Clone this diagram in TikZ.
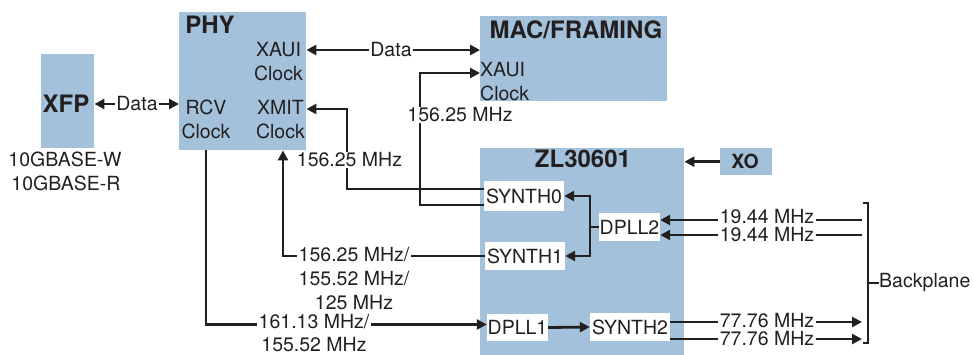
\documentclass[tikz,border=0pt]{standalone}
\usepackage{fontspec}
\setmainfont{TeX Gyre Heros}
\usetikzlibrary{arrows.meta}
\definecolor{boxblue}{HTML}{A3C1DB}
\definecolor{ink}{HTML}{231F20}
\newcommand\rgfont{\fontsize{19.5}{24}\selectfont}
\newcommand\ttlfont{\fontsize{24}{27}\selectfont\bfseries}
\tikzset{
  blk/.style={fill=boxblue, draw=none, inner sep=0pt, anchor=north west},
  wbox/.style={fill=white, draw=none, inner sep=0pt, font=\rgfont, text=ink},
  txt/.style={inner sep=0pt, font=\rgfont, text=ink},
  ttl/.style={inner sep=0pt, font=\ttlfont, text=ink},
  lbl/.style={fill=white, inner xsep=1.5pt, inner ysep=0.5pt, font=\rgfont, text=ink},
  conn/.style={line width=2.8pt, draw=ink},
  arr/.style={conn, -{Triangle[length=10pt,width=10pt]}},
  darr/.style={conn, {Triangle[length=10pt,width=10pt]}-{Triangle[length=10pt,width=10pt]}},
  brk/.style={line width=2.2pt, draw=ink},
}
\begin{document}
\begin{tikzpicture}[x=1pt,y=-1pt]
\useasboundingbox (0,0) rectangle (974,354);
% blocks
\node[blk, minimum width=53pt, minimum height=94pt] (xfp) at (41,54) {};
\node[blk, minimum width=127pt, minimum height=138pt] (phy) at (179,12) {};
\node[blk, minimum width=187pt, minimum height=85pt] (mac) at (480,16) {};
\node[blk, minimum width=204pt, minimum height=210pt] (zl) at (480,148) {};
\node[blk, minimum width=52pt, minimum height=27pt] (xo) at (720,148) {};
% white inner boxes
\node[wbox, minimum width=80pt, minimum height=30pt] (synth0) at (524,196) {SYNTH0};
\node[wbox, minimum width=80pt, minimum height=28pt] (synth1) at (525,256) {SYNTH1};
\node[wbox, minimum width=61pt, minimum height=28pt] (dpll2) at (629.5,227) {DPLL2};
\node[wbox, minimum width=61pt, minimum height=27pt] (dpll1) at (517.5,327.5) {DPLL1};
\node[wbox, minimum width=80pt, minimum height=28pt] (synth2) at (630,327) {SYNTH2};
% block texts
\node[ttl] (tphy) at (210,25) {PHY};
\node[ttl] (txfp) at (66,104) {XFP};
\node[ttl] (tmac) at (576,30) {MAC/FRAMING};
\node[ttl] (tzl) at (583,159) {ZL30601};
\node[ttl, font=\fontsize{19.5}{22}\selectfont\bfseries] (txo) at (745,161.5) {XO};
\node[txt, align=center] (txaui) at (278.5,61.5) {XAUI\\Clock};
\node[txt, align=center] (trcv) at (206,119) {RCV\\Clock};
\node[txt, align=center] (txmit) at (280.5,119.5) {XMIT\\Clock};
\node[txt, align=left, anchor=west] (tmxaui) at (480,81.5) {XAUI\\Clock};
\node[txt] (tw) at (65,159) {10GBASE-W};
\node[txt] (tr) at (66,183) {10GBASE-R};
% coordinates
\coordinate (yd1) at (0,104);
\coordinate (yd2) at (0,50);
\coordinate (c1) at (420,73);
\coordinate (c2) at (347,109);
\coordinate (c3) at (283,0);
\coordinate (c4) at (206,0);
\coordinate (c5) at (590,227);
\coordinate (bp1) at (862,220);
\coordinate (bp2) at (862,235);
\coordinate (bp3) at (862,322);
\coordinate (bp4) at (862,339);
\coordinate (bt) at (868,203);
\coordinate (bb) at (868,343);
\coordinate (bm) at (868,283);
% connectors
\draw[darr] (yd1 -| xfp.east) -- (yd1 -| phy.west);
\draw[darr] (yd2 -| phy.east) -- (yd2 -| mac.west);
\draw[arr] ([yshift=-9pt]synth0.west) -| (c1) -- (c1 -| mac.west);
\draw[arr] ([yshift=7pt]synth0.west) -| (c2) -- (c2 -| phy.east);
\draw[arr] (synth1.west) -| (c3 |- phy.south);
\draw[arr] (c4 |- phy.south) |- ([yshift=3pt]dpll1.west);
\draw[arr] (dpll1.east) -- (synth2.west);
\draw[darr] (synth0.east) -| (c5) |- (synth1.east);
\draw[conn] (c5) -- (dpll2.west);
\draw[arr] (bp1) -- (bp1 -| dpll2.east);
\draw[arr] (bp2) -- (bp2 -| dpll2.east);
\draw[arr] (bp3 -| synth2.east) -- (bp3);
\draw[arr] (bp4 -| synth2.east) -- (bp4);
\draw[arr] (xo.west) -- (xo.west -| zl.east);
\draw[brk] ([xshift=-5pt]bt) -- (bt) -- (bb) -- ([xshift=-5pt]bb);
\node[txt, anchor=west] (bpl) at (879,283) {Backplane};
\draw[brk] (bm) -- (bpl.west);
% labels on connectors
\node[lbl] (ld1) at (137,104) {Data};
\node[lbl] (ld2) at (391,50) {Data};
\node[lbl] (lf1) at (460,115) {156.25 MHz};
\node[lbl] (lf2) at (349.5,160) {156.25 MHz};
\node[lbl, align=center] (lf3) at (354,279) {156.25 MHz/\\155.52 MHz/\\125 MHz};
\node[lbl, align=center, inner ysep=0pt, font=\fontsize{19.5}{22.5}\selectfont] (lf4) at (314,333) {161.13 MHz/\\155.52 MHz};
\node[lbl, inner ysep=0pt] (lb1) at (767,217) {19.44 MHz};
\node[lbl, inner ysep=0pt] (lb2) at (767,235) {19.44 MHz};
\node[lbl, inner ysep=0pt] (lb3) at (767,321) {77.76 MHz};
\node[lbl, inner ysep=0pt] (lb4) at (767,339) {77.76 MHz};
\end{tikzpicture}
\end{document}
